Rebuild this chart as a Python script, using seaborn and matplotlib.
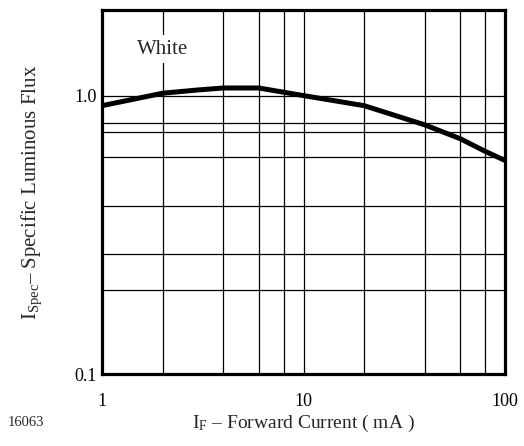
# Specific luminous flux vs forward current (white LED)
import numpy as np
import pandas as pd
import matplotlib
matplotlib.use('Agg')
import matplotlib.pyplot as plt
import seaborn as sns

# data
current_ma = [1, 2, 3, 4, 6, 10, 20, 40, 60, 80, 100]
lum_flux = [0.92, 1.02, 1.048, 1.065, 1.065, 1.0, 0.92, 0.785, 0.70, 0.63, 0.585]

x_major = [1, 10, 100]
x_major_labels = ['1', '10', '100']
x_minor = [2, 4, 6, 8, 20, 40, 60, 80]
y_major = [0.1, 1.0]
y_major_labels = ['0.1', '1.0']
y_minor = [0.2, 0.27, 0.4, 0.6, 0.74, 0.8]

df = pd.DataFrame({'current': current_ma, 'flux': lum_flux})

sns.set_style('white')
plt.rcParams['font.family'] = ['Liberation Serif', 'DejaVu Serif']
plt.rcParams['mathtext.fontset'] = 'custom'
plt.rcParams['mathtext.rm'] = 'Liberation Serif'
plt.rcParams['mathtext.it'] = 'Liberation Serif:italic'

fig = plt.figure(figsize=(5.24, 4.46), dpi=100)
ax = fig.add_axes([0.1947, 0.1614, 0.769, 0.8162])

sns.lineplot(data=df, x='current', y='flux', color='black', linewidth=3.6, ax=ax)

ax.set_xscale('log')
ax.set_yscale('log')
ax.set_xlim(1, 100)
ax.set_ylim(0.1, 2.03)

ax.set_xticks(x_major)
ax.set_xticklabels(x_major_labels)
ax.set_xticks(x_minor, minor=True)
ax.set_xticklabels([], minor=True)
ax.set_yticks(y_major)
ax.set_yticklabels(y_major_labels)
ax.set_yticks(y_minor, minor=True)
ax.set_yticklabels([], minor=True)
ax.tick_params(which='both', length=0, labelsize=13, colors='black')
ax.tick_params(axis='x', pad=14)
ax.tick_params(axis='y', pad=4)

ax.grid(True, which='both', color='black', linewidth=0.9)
ax.set_axisbelow(True)

for s in ax.spines.values():
    s.set_visible(True)
    s.set_color('black')
    s.set_linewidth(2.3)

ax.set_xlabel(r'I$_{\mathrm{F}}$ – Forward Current ( mA )', fontsize=14, labelpad=2)
ax.set_ylabel(r'I$_{\mathrm{Spec}}$– Specific Luminous Flux', fontsize=15, labelpad=22)

ax.text(2, 1.47, 'White', fontsize=15, ha='center', va='center',
        bbox=dict(facecolor='white', edgecolor='none', pad=3))

fig.text(8 / 524, 1 - 422 / 446, '16063', fontsize=10.5, ha='left', va='center')

fig.savefig('out.png', dpi=100)
